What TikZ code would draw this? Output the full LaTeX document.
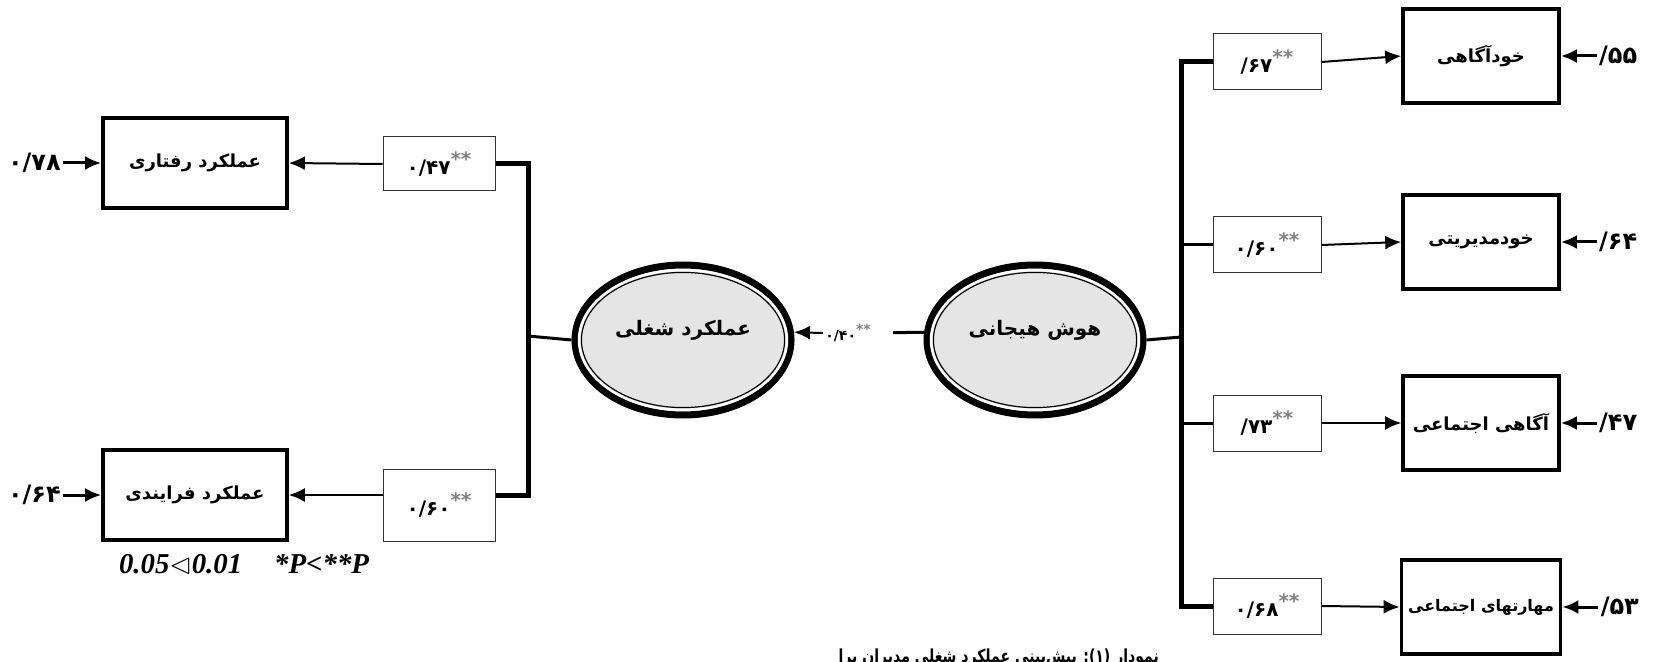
\documentclass[tikz,border=0pt]{standalone}
\usepackage{fontspec}
\usepackage{amssymb}
\setmainfont{Liberation Serif}
\newfontfamily\fafont[Script=Arabic]{DejaVu Sans}
\newfontfamily\facapfont[Script=Arabic, FakeStretch=0.78]{DejaVu Sans}
\TeXXeTstate=1
\usetikzlibrary{arrows.meta,positioning,shapes.geometric}
\newcommand{\starsig}{\raisebox{0.75ex}{\textcolor{gray}{**}}}
\tikzset{
    headarrow/.style = {-{Latex[length=8pt,width=7pt]}},
    factorbox/.style = {draw, line width=1.8pt, minimum width=92pt, minimum height=45pt, font=\fafont\bfseries\small},
    weightbox/.style = {draw=black!80, line width=0.5pt, minimum width=56pt, minimum height=27pt, font=\fafont\bfseries},
    latent/.style = {ellipse, draw, line width=3.5pt, fill=gray!20, minimum width=108pt, minimum height=75pt, font=\fafont\bfseries},
    errlabel/.style = {inner sep=1pt, font=\fafont\bfseries\large},
    spine/.style = {line width=2.5pt},
    stub/.style = {line width=1.5pt}
}

\begin{document}
\begin{tikzpicture}[x=0.5pt,y=-0.5pt]
    \useasboundingbox (0,0) rectangle (1679,662);

    % dependent side
    \node[factorbox] (behav) at (195,163) {\beginR عملکرد رفتاری\endR};
    \node[factorbox] (proc) at (195,495) {\beginR عملکرد فرایندی\endR};
    \node[weightbox] (wbehav) at (439,164) {۰/۴۷\starsig};
    \node[weightbox, minimum height=36pt] (wproc) at (439,505) {۰/۶۰\starsig};
    \node[errlabel] (ebehav) [left=19pt of behav] {۰/۷۸};
    \node[errlabel] (eproc) [left=19pt of proc] {۰/۶۴};

    \node[latent] (job) at (683,340) {\raisebox{12pt}{\beginR عملکرد شغلی\endR}};
    \node[latent] (emo) at (1035,340) {\raisebox{12pt}{\beginR هوش هیجانی\endR}};
    \node[inner sep=1pt, font=\fafont\bfseries\scriptsize] (wjob) at (848,333) {۰/۴۰\starsig};

    % predictor side
    \node[factorbox, minimum width=78pt, minimum height=47pt] (selfaw) at (1481,56) {\beginR خودآگاهی\endR};
    \node[factorbox, minimum width=78pt, minimum height=47pt] (selfman) at (1481,242) {\beginR خودمدیریتی\endR};
    \node[factorbox, minimum width=78pt, minimum height=47pt] (socaw) at (1481,423) {\beginR آگاهی اجتماعی\endR};
    \node[factorbox, minimum width=78pt, minimum height=47pt, font=\fafont\bfseries\footnotesize] (socsk) at (1481,607) {\beginR مهارتهای اجتماعی\endR};
    \node[weightbox, minimum width=54pt, minimum height=28pt] (wselfaw) at (1267,62) {۶۷/\starsig};
    \node[weightbox, minimum width=54pt, minimum height=28pt] (wselfman) at (1267,245) {۰/۶۰\starsig};
    \node[weightbox, minimum width=54pt, minimum height=28pt] (wsocaw) at (1267,423) {۷۳/\starsig};
    \node[weightbox, minimum width=54pt, minimum height=28pt] (wsocsk) at (1267,606) {۰/۶۸\starsig};
    \node[errlabel] (eselfaw) [right=18pt of selfaw] {۵۵/};
    \node[errlabel] (eselfman) [right=18pt of selfman] {۶۴/};
    \node[errlabel] (esocaw) [right=18pt of socaw] {۴۷/};
    \node[errlabel] (esocsk) [right=18pt of socsk] {۵۳/};

    \coordinate (spineL) at (528,336);
    \coordinate (spineR) at (1181,337);

    \draw[spine] (wbehav.east) -| (spineL) |- (wproc.east |- proc.east);
    \draw[stub] (spineL) -- (job.west);
    \draw[headarrow, line width=1pt] (wbehav.west) -- (behav.east);
    \draw[headarrow, line width=1pt] (wproc.west |- proc.east) -- (proc.east);
    \draw[headarrow, line width=1.5pt] (ebehav) -- (behav);
    \draw[headarrow, line width=1.5pt] (eproc) -- (proc);

    \draw[stub, shorten >=10pt] (emo.176) -- (wjob.east);
    \draw[headarrow, line width=1pt] (wjob.west) -- (job.4);

    \draw[spine] (wselfaw.west) -| (spineR) |- (wsocsk.west);
    \draw[stub] (emo.east) -- (spineR);
    \draw[stub] (spineR |- wselfman.west) -- (wselfman.west);
    \draw[stub] (spineR |- wsocaw.west) -- (wsocaw.west);
    \foreach \w/\f in {wselfaw/selfaw, wselfman/selfman, wsocaw/socaw, wsocsk/socsk}
        \draw[headarrow, line width=1pt] (\w.east) -- (\f.west);
    \foreach \e/\f in {eselfaw/selfaw, eselfman/selfman, esocaw/socaw, esocsk/socsk}
        \draw[headarrow, line width=1.5pt] (\e) -- (\f);

    % inner rings of the latent variables
    \foreach \n in {job, emo} {
        \draw[white, line width=1.2pt] (\n.center) ellipse [x radius=52pt, y radius=35pt];
        \draw[line width=0.6pt] (\n.center) ellipse [x radius=50.8pt, y radius=33.8pt];
    }

    \node[font=\bfseries\itshape\Large] (note) at (244,564) {0.05$\lhd$0.01\hspace{16pt}*P<**P};
    % caption is cut at its left end, as in the source
    \begin{scope}
        \clip (839,600) rectangle (1679,662);
        \node[font=\facapfont\bfseries\small, anchor=north east] (caption) at (1166,638) {\beginR نمودار (۱): پیش‌بینی عملکرد شغلی مدیران براساس هوش هیجانی آنان\endR};
    \end{scope}
\end{tikzpicture}
\end{document}
